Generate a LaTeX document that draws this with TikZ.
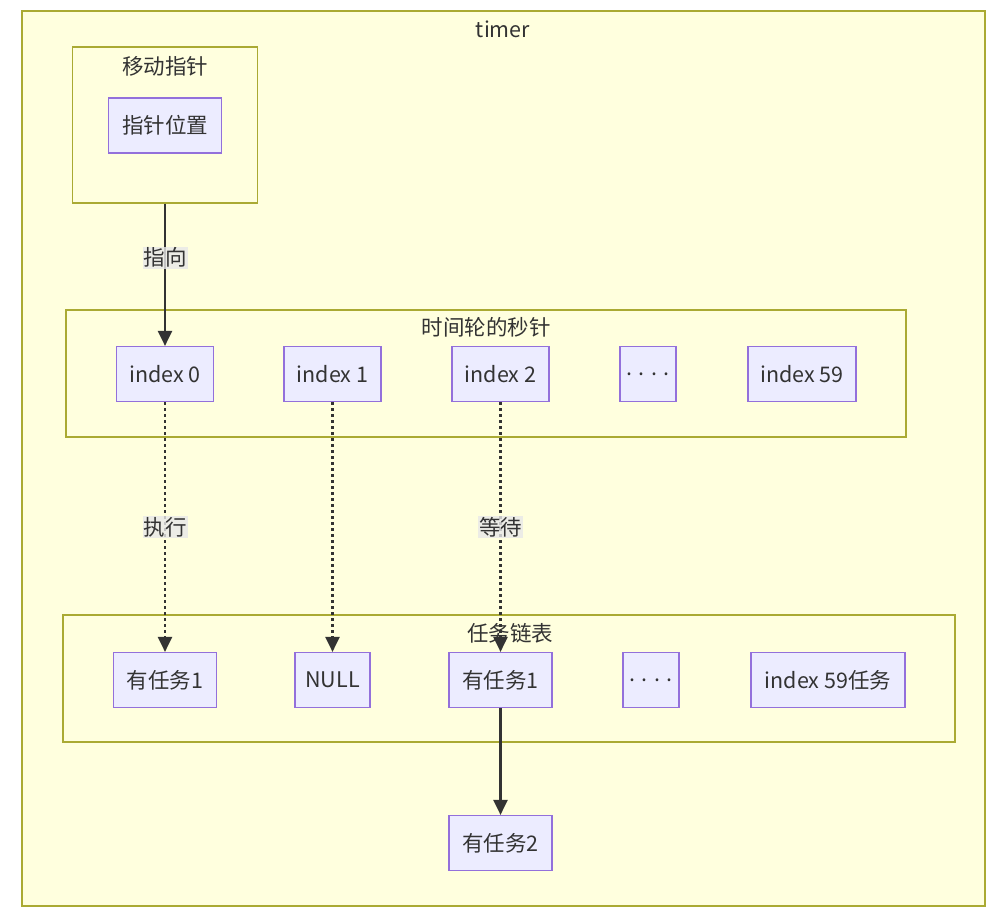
\documentclass[tikz,border=0pt]{standalone}
\usepackage{fontspec}
\setmainfont{Noto Sans CJK SC}
\usepackage{tikz}
\usetikzlibrary{arrows.meta,positioning}
\definecolor{clusterfill}{RGB}{255,255,222}
\definecolor{clusterline}{RGB}{170,170,51}
\definecolor{nodefill}{RGB}{236,236,255}
\definecolor{nodeline}{RGB}{147,112,219}
\definecolor{inkgray}{RGB}{51,51,51}
\definecolor{labelgray}{RGB}{232,232,232}

\begin{document}
\begin{tikzpicture}[
    x=1pt, y=-1pt,
    cl/.style={draw=clusterline, fill=clusterfill, line width=1.2pt, inner sep=0pt},
    cltitle/.style={text=inkgray, font=\fontsize{21.5}{24}\selectfont, inner sep=0pt},
    box/.style={draw=nodeline, fill=nodefill, line width=1.2pt, minimum height=55pt, inner sep=0pt, text=inkgray, font=\fontsize{21.5}{24}\selectfont},
    lbl/.style={fill=labelgray, fill opacity=0.8, text opacity=1, text=inkgray, inner sep=1pt, font=\fontsize{21.5}{24}\selectfont},
    link/.style={draw=inkgray, line width=2.4pt, -{Triangle[length=15pt, width=14pt]}},
    wait/.style={link, dash pattern=on 3pt off 3pt}
]
\useasboundingbox (0,0) rectangle (1003,914);

% clusters
\node[cl, minimum width=963pt, minimum height=895pt] (timer) at (503.5, 458.5) {};
\node[cltitle] at (503, 29) {timer};
\node[cl, minimum width=185pt, minimum height=156pt] (ptrbox) at (165, 125) {};
\node[cltitle] at (165, 66) {移动指针};
\node[cl, minimum width=840pt, minimum height=127pt] (wheel) at (486, 373.5) {};
\node[cltitle] at (486, 327) {时间轮的秒针};
\node[cl, minimum width=892pt, minimum height=127pt] (tasks) at (509, 678.5) {};
\node[cltitle] at (510, 633) {任务链表};

% nodes
\node[box, minimum width=113pt] (ptr) at (165, 125.5) {指针位置};

\node[box, minimum width=97pt] (idx0) at (165, 374) {index 0};
\node[box, minimum width=97pt] (idx1) at (332.5, 374) {index 1};
\node[box, minimum width=97pt] (idx2) at (500.5, 374) {index 2};
\node[box, minimum width=56pt] (idxdots) at (648, 374) {. . . .};
\node[box, minimum width=108pt] (idx59) at (802, 374) {index 59};

\node[box, minimum width=103pt] (taskA) at (165, 680) {有任务1};
\node[box, minimum width=75pt] (null) at (332.5, 680) {NULL};
\node[box, minimum width=103pt] (taskB) at (500.5, 680) {有任务1};
\node[box, minimum width=56pt] (taskdots) at (651, 680) {. . . .};
\node[box, minimum width=154pt] (task59) at (828, 680) {index 59任务};
\node[box, minimum width=103pt] (taskC) at (500.5, 843) {有任务2};

% links
\draw[link] (ptrbox.south) -- node[lbl, pos=0.38] {指向} (idx0.north);
\draw[wait] (idx0.south) -- node[lbl] {执行} (taskA.north);
\draw[wait] (idx1.south) -- (null.north);
\draw[wait] (idx2.south) -- node[lbl] {等待} (taskB.north);
\draw[link] (taskB.south) -- (taskC.north);
\end{tikzpicture}
\end{document}
